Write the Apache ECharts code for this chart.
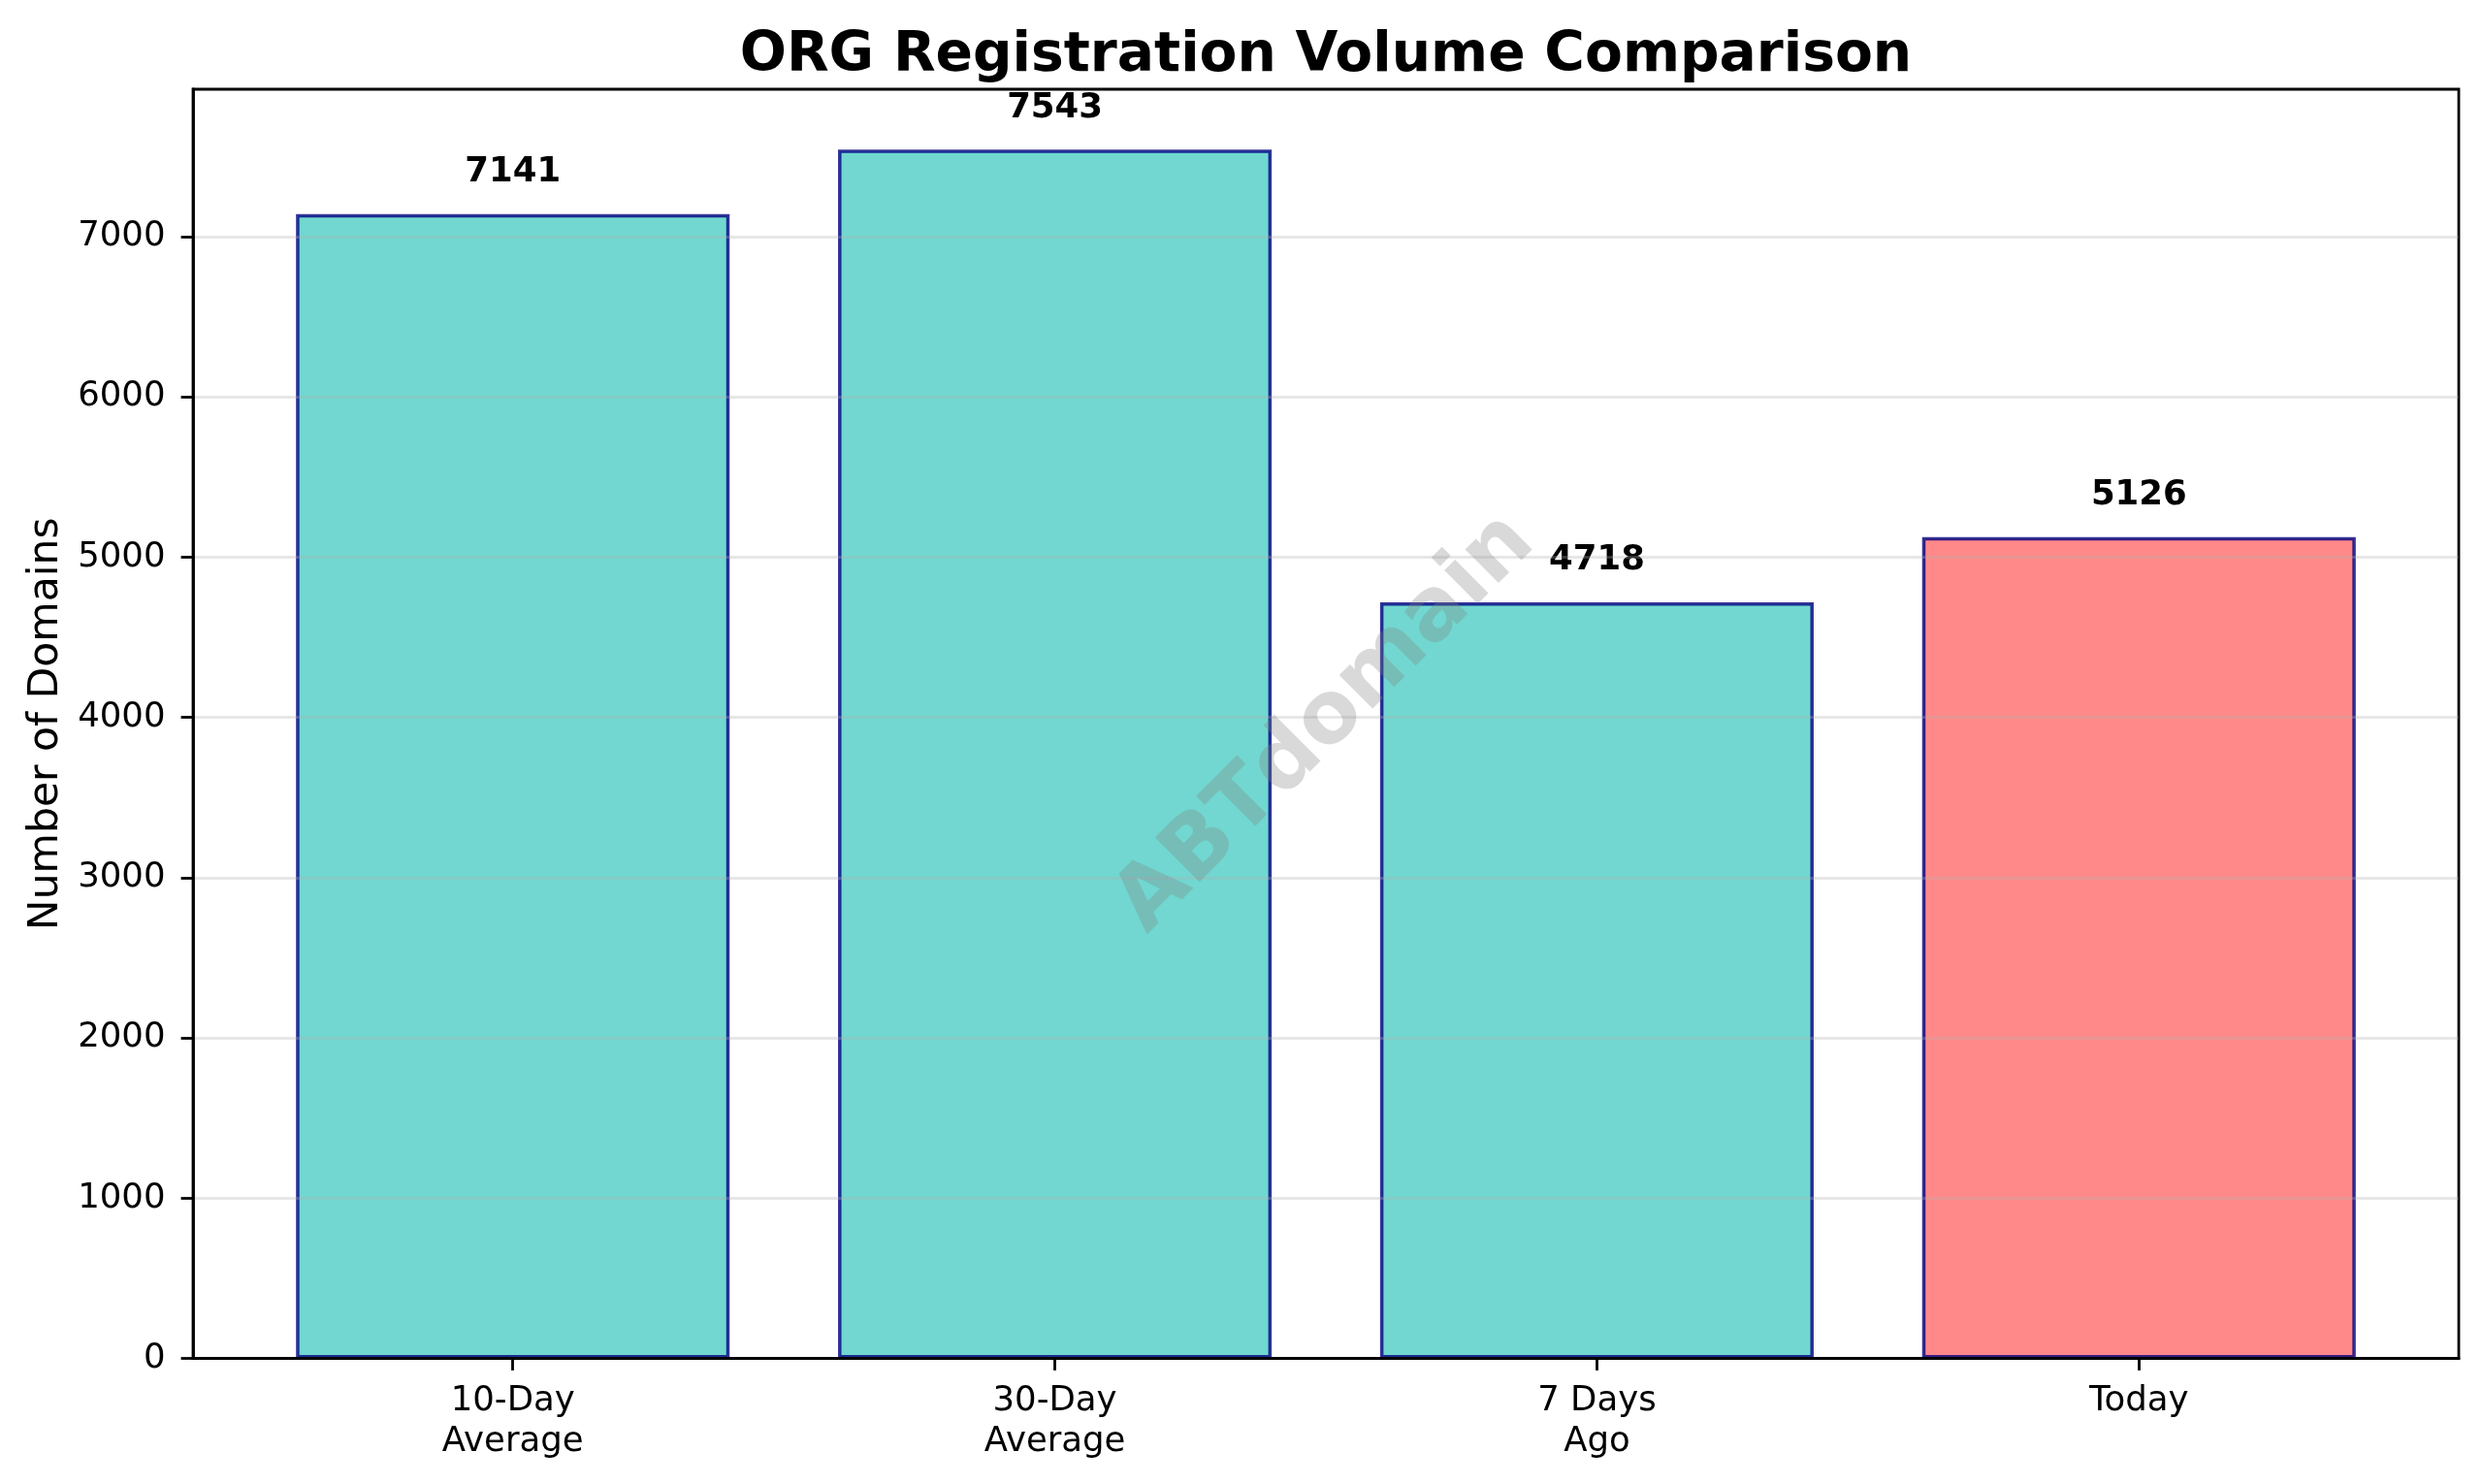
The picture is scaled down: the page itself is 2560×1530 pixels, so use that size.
<!DOCTYPE html>
<html><head><meta charset="utf-8">
<script src="https://cdn.jsdelivr.net/npm/echarts@6/dist/echarts.min.js"></script>
<style>html,body{margin:0;padding:0;background:#fff}#c{width:2560px;height:1530px}</style>
</head><body><div id="c"></div>
<script>
const categories = ['10-Day\nAverage', '30-Day\nAverage', '7 Days\nAgo', 'Today'];
const volumes = [7141, 7543, 4718, 5126];
const yTicks = [0, 1000, 2000, 3000, 4000, 5000, 6000, 7000];
const titleText = 'ORG Registration Volume Comparison';
const yAxisName = 'Number of Domains';
const watermarkText = 'ABTdomain';

const W = 2560, H = 1530;
const gl = 199, gr = 25, gt = 92, gb = 129.5;
const gw = W - gl - gr, gh = H - gt - gb;
const n = categories.length;
const span = (n - 1) + 0.8;
const xMin = -0.4 - 0.05 * span, xMax = (n - 1) + 0.4 + 0.05 * span;
const barW = 0.8 * gw / (xMax - xMin);
const yMax = Math.max(...volumes) * 1.05;
const FONT = '"DejaVu Sans", sans-serif';
const teal = 'rgba(78,205,196,0.8)', red = 'rgba(255,107,107,0.8)';
const xTickVals = categories.map((c, i) => i);

const chart = echarts.init(document.getElementById('c'), null, {renderer: 'canvas'});
chart.setOption({
  backgroundColor: '#fff',
  animation: false,
  textStyle: {fontFamily: FONT},
  grid: {left: gl, right: gr, top: gt, bottom: gb, show: true, borderColor: '#000', borderWidth: 2.8, backgroundColor: 'transparent'},
  xAxis: {
    type: 'value', min: xMin, max: xMax, z: 5,
    axisLine: {show: true, onZero: false, lineStyle: {color: '#000', width: 2.8}},
    axisTick: {show: true, customValues: xTickVals, length: 12.4, lineStyle: {color: '#000', width: 2.8}},
    axisLabel: {customValues: xTickVals, formatter: v => categories[Math.round(v)], fontSize: 35.5, lineHeight: 42.6, color: '#000', margin: 22.5, fontFamily: FONT},
    splitLine: {show: false}
  },
  yAxis: {
    type: 'value', min: 0, max: yMax, interval: 1000, z: 5,
    name: yAxisName, nameLocation: 'middle', nameGap: 124,
    nameTextStyle: {fontSize: 42.5, color: '#000', fontFamily: FONT},
    axisLine: {show: true, onZero: false, lineStyle: {color: '#000', width: 2.8}},
    axisTick: {show: true, customValues: yTicks, length: 12.4, lineStyle: {color: '#000', width: 2.8}},
    axisLabel: {customValues: yTicks, formatter: v => String(Math.round(v)), fontSize: 35.5, color: '#000', margin: 28.5, fontFamily: FONT},
    splitLine: {show: true, lineStyle: {color: 'rgba(176,176,176,0.3)', width: 2.8}}
  },
  series: [{
    type: 'bar', z: 2,
    barWidth: barW,
    data: volumes.map((v, i) => ({value: [i, v], itemStyle: {color: i === n - 1 ? red : teal}})),
    itemStyle: {borderColor: 'rgba(0,0,128,0.8)', borderWidth: 3.5},
    label: {show: true, position: 'top', distance: 25, formatter: p => String(p.value[1]), fontSize: 35.5, fontWeight: 'bold', color: '#000', fontFamily: FONT}
  }],
  graphic: [
    {type: 'text', x: gl + gw / 2, y: 58, z: 100,
     style: {text: titleText, align: 'center', verticalAlign: 'middle', fill: '#000', font: 'bold 56.7px ' + FONT}},
    {type: 'text', x: gl + gw / 2, y: gt + gh / 2, rotation: Math.PI / 4, z: 100,
     style: {text: watermarkText, align: 'center', verticalAlign: 'middle', fill: 'rgba(128,128,128,0.3)', font: 'bold 89px ' + FONT}}
  ]
});
</script></body></html>
